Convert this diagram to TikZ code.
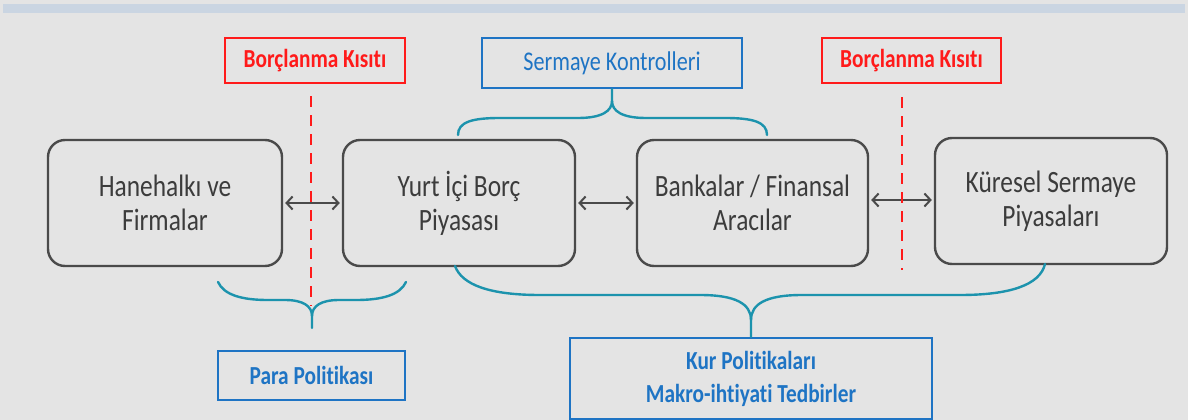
\documentclass[tikz,border=0pt]{standalone}
\usepackage{fontspec}
\setmainfont{Carlito}[FakeStretch=0.82,Ligatures=NoCommon]
\usetikzlibrary{arrows.meta}
\definecolor{bg}{HTML}{E4E4E4}
\definecolor{band}{HTML}{CAD5E2}
\definecolor{boxgray}{HTML}{4A4A4A}
\definecolor{txtgray}{HTML}{3C3C3C}
\definecolor{kred}{HTML}{FF1A1A}
\definecolor{kblue}{HTML}{1E74C4}
\definecolor{kteal}{HTML}{1C93AD}
\tikzset{
  mainbox/.style={draw=boxgray,line width=2.4pt,rounded corners=17pt,minimum height=126pt,text=txtgray,font=\fontsize{31}{34}\selectfont,align=center,inner sep=0pt},
  redbox/.style={draw=kred,line width=2.4pt,text=kred,font=\fontsize{26}{30}\selectfont\bfseries,minimum height=45pt,inner sep=0pt},
  bluebox/.style={draw=kblue,line width=2.4pt,text=kblue,font=\fontsize{26}{33}\selectfont\bfseries,align=center,inner sep=0pt},
  dbl/.style={{Straight Barb[length=6pt,width=13pt,line width=2pt]}-{Straight Barb[length=6pt,width=13pt,line width=2pt]},draw=boxgray,line width=2.4pt,shorten <=2pt,shorten >=2pt},
  reddash/.style={draw=kred,line width=2.6pt,dash pattern=on 11pt off 8pt},
  brace/.style={draw=kteal,line width=2.4pt,line cap=round}
}
\begin{document}
\begin{tikzpicture}[x=1pt,y=-1pt]
\fill[bg] (0,0) rectangle (1188,420);
\useasboundingbox (0,0) rectangle (1188,420);
\fill[band] (3,4) rectangle (1185,13);
% main boxes
\node[mainbox,minimum width=234pt] (b1) at (165,203) {Hanehalkı ve\\Firmalar};
\node[mainbox,minimum width=232pt] (b2) at (459,203) {Yurt İçi Borç\\Piyasası};
\node[mainbox,minimum width=231pt] (b3) at (752.5,203) {Bankalar / Finansal\\Aracılar};
\node[mainbox,minimum width=232pt] (b4) at (1051,201) {Küresel Sermaye\\Piyasaları};
% arrows
\draw[dbl] (b1.east) -- (b2.west);
\draw[dbl] (b2.east) -- (b3.west);
\draw[dbl] (b3.east |- 0,200) -- (b4.west |- 0,200);
% red boxes
\node[redbox,minimum width=180pt] (r1) at (315,60.5) {Borçlanma Kısıtı};
\node[redbox,minimum width=179pt] (r2) at (911.5,60.5) {Borçlanma Kısıtı};
\coordinate (d1a) at (311,96);
\coordinate (d1b) at (311,306);
\coordinate (d2a) at (902,97);
\coordinate (d2b) at (902,270);
\draw[reddash] (d1a) -- (d1b);
\draw[reddash] (d2a) -- (d2b);
% blue boxes
\node[bluebox,minimum width=260pt,minimum height=50pt,font=\fontsize{27}{33}\selectfont\mdseries] (sk) at (612,63) {Sermaye Kontrolleri};
\node[bluebox,minimum width=187pt,minimum height=49pt] (pp) at (311.5,375.5) {Para Politikası};
\node[bluebox,minimum width=362pt,minimum height=81pt] (kp) at (751,378.5) {Kur Politikaları\\Makro-ihtiyati Tedbirler};
% braces
\draw[brace] (458,135) .. controls (458,122) and (472,118) .. (500,118) -- (578,118) .. controls (602,118) and (612,111) .. (612,101) -- (sk.south);
\draw[brace] (767,135) .. controls (767,122) and (753,118) .. (725,118) -- (646,118) .. controls (622,118) and (612,111) .. (612,101);
\draw[brace] (218,282) .. controls (224,295) and (242,300) .. (268,300) -- (285,300) .. controls (303,300) and (312,306) .. (312,316) -- (312,328);
\draw[brace] (406,282) .. controls (400,295) and (382,300) .. (356,300) -- (339,300) .. controls (321,300) and (312,306) .. (312,316);
\draw[brace] (455,266) .. controls (462,285) and (490,295) .. (540,295) -- (700,295) .. controls (736,295) and (751,304) .. (751,320) -- (kp.north);
\draw[brace] (1045,264) .. controls (1040,285) and (1010,295) .. (960,295) -- (802,295) .. controls (766,295) and (751,304) .. (751,320);
\end{tikzpicture}
\end{document}
